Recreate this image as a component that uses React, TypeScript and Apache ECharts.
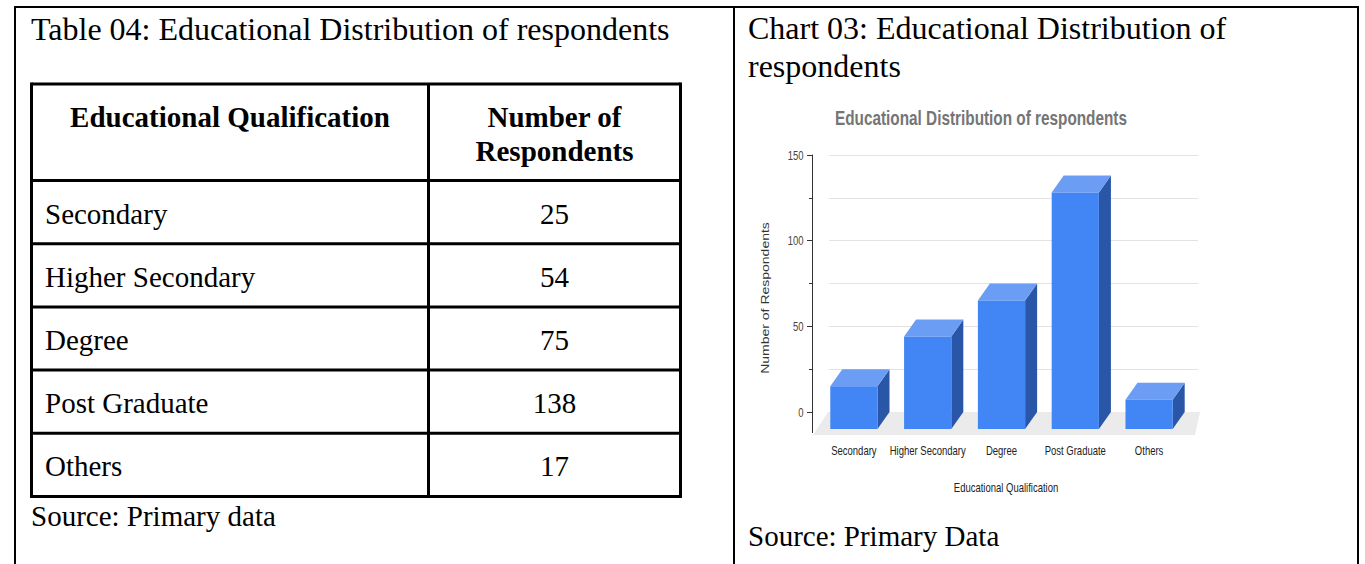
import React, { useEffect, useRef } from "react";
import * as echarts from "echarts";

// Survey data: educational qualification of respondents
const categories = ["Secondary", "Higher Secondary", "Degree", "Post Graduate", "Others"];
const respondents = [25, 54, 75, 138, 17];
const yTicks = [0, 50, 100, 150];
const yAxisMax = 150;
const yAxisStep = 50;

// Texts
const tableTitle = "Table 04: Educational Distribution of respondents";
const tableHeaders = ["Educational Qualification", "Number of\nRespondents"];
const tableSource = "Source: Primary data";
const chartCaption = "Chart 03: Educational Distribution of\nrespondents";
const chartTitle = "Educational Distribution of respondents";
const chartSource = "Source: Primary Data";
const xAxisName = "Educational Qualification";
const yAxisName = "Number of Respondents";

// Styling
const SERIF = "'Liberation Serif', 'Times New Roman', serif";
const SANS = "'Liberation Sans', Arial, sans-serif";
const SQUEEZE = 0.73; // chart lettering is horizontally condensed
const FRONT = "#4285f4";
const TOP = "#6b9df5";
const SIDE = "#2a56a8";
const FLOOR = "#ebebeb";
const DX = 12; // depth offset of the 3D bars
const DY = 17;

// Page layout
const W = 1365;
const H = 564;
const FRAME_TOP = 7;
const FRAME_LEFT = 15;
const FRAME_MID = 734;
const FRAME_RIGHT = 1358;

const T_LEFT = 31.5;
const T_RIGHT = 680.5;
const T_COL = 428.5;
const T_TOP = 84;
const T_HEAD = 180.5;
const T_ROW = 63.2;

const GRID_LEFT = 829;
const GRID_RIGHT = 1198;
const GRID_TOP = 155;
const GRID_BOTTOM = 412;
const AXIS_OFFSET = 17;

function buildTable(): any[] {
  const els: any[] = [];
  const bottom = T_HEAD + T_ROW * categories.length;
  const line = (x1: number, y1: number, x2: number, y2: number) => ({
    type: "line",
    shape: { x1, y1, x2, y2 },
    style: { stroke: "#000", lineWidth: 3 },
    silent: true,
  });
  // borders
  els.push(line(T_LEFT, T_TOP, T_RIGHT, T_TOP));
  els.push(line(T_LEFT, T_TOP - 1.5, T_LEFT, bottom + 1.5));
  els.push(line(T_RIGHT, T_TOP - 1.5, T_RIGHT, bottom + 1.5));
  els.push(line(T_COL, T_TOP, T_COL, bottom));
  els.push(line(T_LEFT, T_HEAD, T_RIGHT, T_HEAD));
  categories.forEach((_, i) => {
    const y = T_HEAD + T_ROW * (i + 1);
    els.push(line(T_LEFT, y, T_RIGHT, y));
  });
  // header
  const headFont = `bold 29px ${SERIF}`;
  els.push({
    type: "text",
    x: (T_LEFT + T_COL) / 2,
    y: 117,
    style: { text: tableHeaders[0], font: headFont, fill: "#000", textAlign: "center", textVerticalAlign: "middle", align: "center", verticalAlign: "middle" },
  });
  els.push({
    type: "text",
    x: (T_COL + T_RIGHT) / 2,
    y: 134,
    style: { text: tableHeaders[1], font: headFont, lineHeight: 34, fill: "#000", textAlign: "center", textVerticalAlign: "middle", align: "center", verticalAlign: "middle" },
  });
  // body rows
  const bodyFont = `29px ${SERIF}`;
  categories.forEach((c, i) => {
    const cy = T_HEAD + T_ROW * (i + 0.5) + 1.5;
    els.push({
      type: "text",
      x: 45,
      y: cy,
      style: { text: c, font: bodyFont, fill: "#000", textAlign: "left", textVerticalAlign: "middle", align: "left", verticalAlign: "middle" },
    });
    els.push({
      type: "text",
      x: (T_COL + T_RIGHT) / 2,
      y: cy,
      style: { text: String(respondents[i]), font: bodyFont, fill: "#000", textAlign: "center", textVerticalAlign: "middle", align: "center", verticalAlign: "middle" },
    });
  });
  return els;
}

function buildPage(): any[] {
  const frame = (x1: number, y1: number, x2: number, y2: number) => ({
    type: "line",
    shape: { x1, y1, x2, y2 },
    style: { stroke: "#000", lineWidth: 2 },
    silent: true,
  });
  const txt = (text: string, x: number, y: number, size: number, extra: any = {}) => ({
    type: "text",
    x,
    y,
    style: { text, font: `${size}px ${SERIF}`, fill: "#000", textAlign: "left", textVerticalAlign: "middle", align: "left", verticalAlign: "middle", ...extra },
  });
  const narrow = (text: string, x: number, y: number, font: string, fill: string, rotated = false) => ({
    type: "text",
    x,
    y,
    rotation: rotated ? Math.PI / 2 : 0,
    scaleX: rotated ? 1 : SQUEEZE,
    scaleY: rotated ? SQUEEZE : 1,
    style: { text, font, fill, textAlign: "center", textVerticalAlign: "middle", align: "center", verticalAlign: "middle" },
  });
  return [
    frame(FRAME_LEFT - 1, FRAME_TOP, FRAME_RIGHT + 1, FRAME_TOP),
    frame(FRAME_LEFT, FRAME_TOP, FRAME_LEFT, H),
    frame(FRAME_MID, FRAME_TOP, FRAME_MID, H),
    frame(FRAME_RIGHT, FRAME_TOP, FRAME_RIGHT, H),
    txt(tableTitle, 31, 29, 32),
    txt(chartCaption, 748, 47, 32, { lineHeight: 38 }),
    txt(tableSource, 31, 516, 29),
    txt(chartSource, 748, 536, 29),
    narrow(chartTitle, 981, 118, `bold 21px ${SANS}`, "#757575"),
    narrow(xAxisName, 1006, 487, `13px ${SANS}`, "#222"),
    narrow(yAxisName, 766, 298, `14px ${SANS}`, "#333", true),
    ...buildTable(),
  ];
}

export default function App() {
  const ref = useRef<HTMLDivElement>(null);

  useEffect(() => {
    if (!ref.current) return;
    const chart = echarts.init(ref.current, undefined, { renderer: "svg" });

    const option: any = {
      animation: false,
      backgroundColor: "#fff",
      graphic: { elements: buildPage() },
      grid: {
        left: GRID_LEFT,
        right: W - GRID_RIGHT,
        top: GRID_TOP,
        bottom: H - GRID_BOTTOM,
        containLabel: false,
      },
      xAxis: {
        type: "category",
        data: categories,
        axisLine: { show: true, lineStyle: { color: "#333", width: 1 } },
        axisTick: { show: false },
        axisLabel: { show: false },
        splitLine: { show: false },
      },
      yAxis: {
        type: "value",
        min: 0,
        max: yAxisMax,
        interval: yAxisStep,
        offset: AXIS_OFFSET,
        axisLine: { show: true, lineStyle: { color: "#333", width: 1 } },
        axisTick: { show: true, length: 5, lineStyle: { color: "#333" } },
        minorTick: { show: true, splitNumber: 2, length: 3, lineStyle: { color: "#333" } },
        splitLine: { show: true, lineStyle: { color: "#e2e2e2" } },
        minorSplitLine: { show: true, lineStyle: { color: "#e2e2e2" } },
        axisLabel: { show: false },
      },
      series: [
        {
          // floor of the 3D plot area, the axis running down to it, and the value labels
          type: "custom",
          z: 1,
          silent: true,
          data: [[0, 0]],
          renderItem: (params: any, api: any) => {
            const cs = params.coordSys;
            const gx = cs.x;
            const gw = cs.width;
            const yb = cs.y + cs.height;
            const ax = gx - AXIS_OFFSET + 0.5;
            const tickLabels = yTicks.map((t) => ({
              type: "text",
              x: ax - 9,
              y: api.coord([0, t])[1],
              scaleX: SQUEEZE,
              style: {
                text: String(t),
                font: `13px ${SANS}`,
                fill: "#444",
                textAlign: "right",
                textVerticalAlign: "middle",
                align: "right",
                verticalAlign: "middle",
              },
            }));
            return {
              type: "group",
              children: [
                {
                  type: "polygon",
                  shape: {
                    points: [
                      [gx - 1, yb],
                      [gx + gw + 2, yb],
                      [gx + gw - 3, yb + 23],
                      [gx - 16, yb + 23],
                    ],
                  },
                  style: { fill: FLOOR },
                },
                {
                  type: "line",
                  shape: { x1: ax, y1: yb, x2: ax, y2: yb + 21 },
                  style: { stroke: "#333", lineWidth: 1 },
                },
                ...tickLabels,
              ],
            };
          },
        },
        {
          type: "custom",
          z: 3,
          data: categories.map((_, i) => [i, respondents[i]]),
          encode: { x: 0, y: 1 },
          renderItem: (params: any, api: any) => {
            const idx = api.value(0);
            const v = api.value(1);
            const base = api.coord([idx, 0]);
            const top = api.coord([idx, v]);
            const band = api.size([1, 0])[0];
            const w = band * 0.64;
            const cx = base[0] - DX;
            const x0 = cx - w / 2;
            const x1 = cx + w / 2;
            const yb = base[1] + DY;
            const yt = top[1] + DY;
            return {
              type: "group",
              children: [
                {
                  type: "polygon",
                  shape: { points: [[x1, yt], [x1 + DX, yt - DY], [x1 + DX, yb - DY], [x1, yb]] },
                  style: { fill: SIDE },
                },
                {
                  type: "polygon",
                  shape: { points: [[x0, yt], [x0 + DX, yt - DY], [x1 + DX, yt - DY], [x1, yt]] },
                  style: { fill: TOP },
                },
                {
                  type: "rect",
                  shape: { x: x0, y: yt, width: w, height: yb - yt },
                  style: { fill: FRONT },
                },
                {
                  // category label under the bar
                  type: "text",
                  x: cx,
                  y: base[1] + 38,
                  scaleX: SQUEEZE,
                  silent: true,
                  style: {
                    text: categories[idx],
                    font: `13px ${SANS}`,
                    fill: "#222",
                    textAlign: "center",
                    textVerticalAlign: "middle",
                    align: "center",
                    verticalAlign: "middle",
                  },
                },
              ],
            };
          },
        },
      ],
    };

    chart.setOption(option);
    return () => chart.dispose();
  }, []);

  return (
    <div
      ref={ref}
      style={{ position: "absolute", left: 0, top: 0, width: W, height: H, background: "#fff" }}
    />
  );
}
